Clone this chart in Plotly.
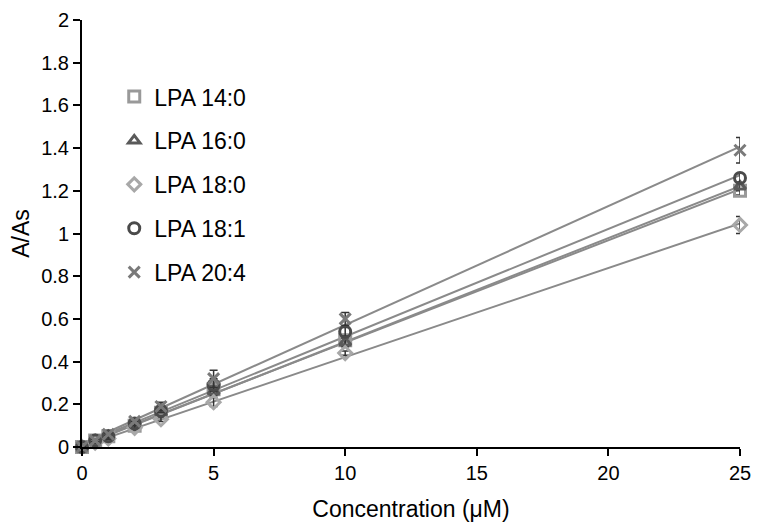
import numpy as np
import plotly.graph_objects as go

conc = [0, 0.5, 1, 2, 3, 5, 10, 25]
series_names = ["LPA 14:0", "LPA 16:0", "LPA 18:0", "LPA 18:1", "LPA 20:4"]
lpa_14_0 = [0.0, 0.03, 0.05, 0.10, 0.16, 0.27, 0.50, 1.20]
lpa_16_0 = [0.0, 0.03, 0.05, 0.10, 0.16, 0.26, 0.49, 1.22]
lpa_18_0 = [0.0, 0.02, 0.04, 0.09, 0.13, 0.21, 0.44, 1.04]
lpa_18_1 = [0.0, 0.03, 0.05, 0.11, 0.17, 0.29, 0.54, 1.26]
lpa_20_4 = [0.0, 0.03, 0.06, 0.12, 0.19, 0.32, 0.60, 1.39]
err_14_0 = [0.005, 0.005, 0.005, 0.01, 0.01, 0.02, 0.02, 0.02]
err_16_0 = [0.005, 0.005, 0.005, 0.01, 0.01, 0.02, 0.02, 0.02]
err_18_0 = [0.005, 0.005, 0.005, 0.01, 0.01, 0.02, 0.01, 0.04]
err_18_1 = [0.005, 0.005, 0.005, 0.01, 0.01, 0.03, 0.02, 0.02]
err_20_4 = [0.005, 0.005, 0.005, 0.01, 0.02, 0.04, 0.03, 0.06]
y_tick_vals = [0, 0.2, 0.4, 0.6, 0.8, 1, 1.2, 1.4, 1.6, 1.8, 2]
y_tick_text = ["0", "0.2", "0.4", "0.6", "0.8", "1", "1.2", "1.4", "1.6", "1.8", "2"]
x_tick_vals = [0, 5, 10, 15, 20, 25]

values = [lpa_14_0, lpa_16_0, lpa_18_0, lpa_18_1, lpa_20_4]
errors = [err_14_0, err_16_0, err_18_0, err_18_1, err_20_4]
symbols = ["square-open", "triangle-up-open", "diamond-open", "circle-open", "x-thin-open"]
colors = ["#999999", "#5a5a5a", "#a8a8a8", "#4a4a4a", "#7a7a7a"]
sizes = [11, 10, 10, 11, 11]

fig = go.Figure()
xs = np.array(conc, dtype=float)
for ys in values:
    slope, icpt = np.polyfit(xs, np.array(ys), 1)
    xl = np.array([xs.min(), xs.max()])
    fig.add_trace(go.Scatter(
        x=xl, y=slope * xl + icpt, mode="lines",
        line=dict(color="#8a8a8a", width=2),
        showlegend=False, hoverinfo="skip", cliponaxis=False))
for name, ys, es, sym, col, sz in zip(series_names, values, errors, symbols, colors, sizes):
    fig.add_trace(go.Scatter(
        x=conc, y=ys, mode="markers", name=name, legendgroup=name,
        marker=dict(symbol=sym, size=sz, color=col, line=dict(width=3, color=col)),
        error_y=dict(type="data", array=es, visible=True, color="#333333",
                     thickness=1.5, width=4),
        cliponaxis=False))

fig.update_layout(
    width=762, height=530,
    margin=dict(l=74, r=30, t=12, b=91),
    plot_bgcolor="white", paper_bgcolor="white",
    font=dict(family="Liberation Sans, Arial, sans-serif", size=20, color="black"),
    legend=dict(x=0.049, y=0.871, xanchor="left", yanchor="top",
                bgcolor="rgba(0,0,0,0)", tracegroupgap=11,
                font=dict(size=23), itemwidth=30),
    showlegend=True,
)
fig.update_xaxes(
    range=[0, 25], tickvals=x_tick_vals, showgrid=False, zeroline=False,
    showline=True, linecolor="black", linewidth=2, automargin=False,
    ticks="outside", ticklen=7, tickwidth=2, tickcolor="black",
    tickfont=dict(size=20),
    title=dict(text="Concentration (μM)", font=dict(size=23), standoff=18),
)
fig.update_yaxes(
    range=[0, 2], tickvals=y_tick_vals, ticktext=y_tick_text,
    showgrid=False, zeroline=False, automargin=False,
    showline=True, linecolor="black", linewidth=2,
    ticks="outside", ticklen=7, tickwidth=2, tickcolor="black",
    tickfont=dict(size=20),
    title=dict(text="A/As", font=dict(size=23), standoff=12),
)
fig.write_html("out.html")
